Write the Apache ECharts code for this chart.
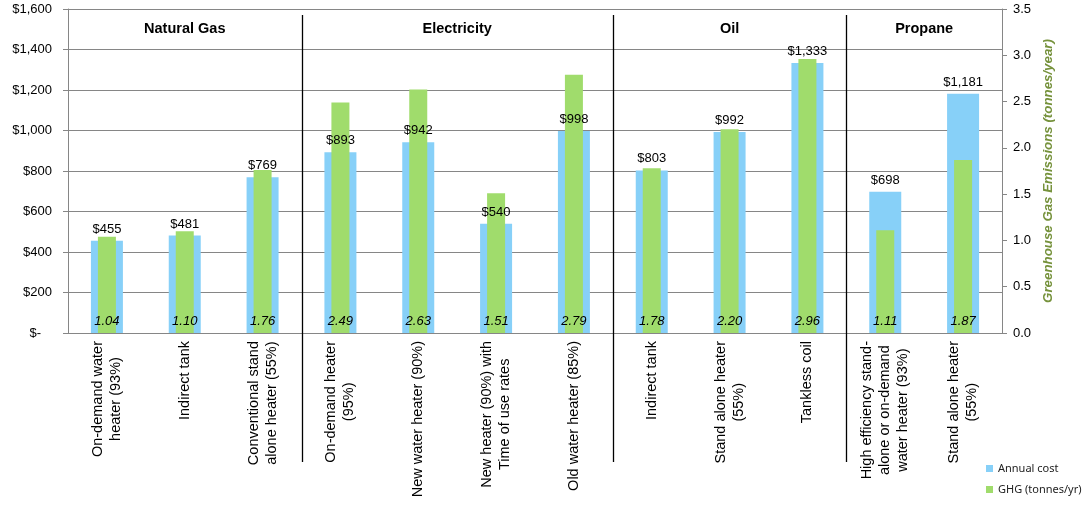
<!DOCTYPE html>
<html>
<head>
<meta charset="utf-8">
<script src="https://cdn.jsdelivr.net/npm/echarts@6/dist/echarts.min.js"></script>
<style>
  html, body { margin: 0; padding: 0; background: #fff; }
  #chart { width: 1089px; height: 505px; }
</style>
</head>
<body>
<div id="chart"></div>
<script>
// water heater options, grouped by fuel
var categories = [
  'On-demand water\nheater (93%)',
  'Indirect tank',
  'Conventional stand\nalone heater (55%)',
  'On-demand heater\n(95%)',
  'New water heater (90%)',
  'New heater (90%) with\nTime of use rates',
  'Old water heater (85%)',
  'Indirect tank',
  'Stand alone heater\n(55%)',
  'Tankless coil',
  'High efficiency stand-\nalone or on-demand\nwater heater (93%)',
  'Stand alone heater\n(55%)'
];
var annualCost = [455, 481, 769, 893, 942, 540, 998, 803, 992, 1333, 698, 1181];
var ghgTonnes = [1.04, 1.10, 1.76, 2.49, 2.63, 1.51, 2.79, 1.78, 2.20, 2.96, 1.11, 1.87];
var groupNames = ['Natural Gas', 'Electricity', 'Oil', 'Propane'];
var groupSizes = [3, 4, 3, 2];

var FONT = '"Liberation Sans", Arial, sans-serif';
var BLUE = '#87d0f8';
var GREEN = '#a0dc6c';
var GRID_COLOR = '#868686';

var chart = echarts.init(document.getElementById('chart'));

function money(v) {
  if (v === 0) return '$-   ';
  return '$' + v.toLocaleString('en-US');
}

var option = {
  animation: false,
  backgroundColor: '#fff',
  grid: { left: 68, right: 87, top: 9, bottom: 172 },
  legend: {
    orient: 'vertical',
    left: 981,
    top: 458,
    itemWidth: 7,
    itemHeight: 7,
    itemGap: 10,
    icon: 'rect',
    textStyle: { fontFamily: '"Noto Sans", sans-serif', fontSize: 11, color: '#222' },
    data: ['Annual cost', 'GHG (tonnes/yr)']
  },
  xAxis: [{
    type: 'category',
    data: categories,
    axisLine: { lineStyle: { color: GRID_COLOR } },
    axisTick: { length: 5, lineStyle: { color: GRID_COLOR } },
    axisLabel: {
      interval: 0,
      rotate: 90,
      margin: 8,
      color: '#000',
      formatter: function (v) {
        return v.split('\n').map(function (s) { return '{c|' + s + '}'; }).join('\n');
      },
      rich: {
        c: { align: 'center', fontFamily: FONT, fontSize: 14.5, lineHeight: 18, color: '#000' }
      }
    }
  }, {
    type: 'category',
    data: categories,
    show: false
  }],
  yAxis: [{
    type: 'value',
    min: 0, max: 1600, interval: 200,
    axisLine: { show: true, lineStyle: { color: GRID_COLOR } },
    axisTick: { show: true, length: 5, lineStyle: { color: GRID_COLOR } },
    splitLine: { lineStyle: { color: GRID_COLOR } },
    axisLabel: { formatter: money, fontFamily: FONT, fontSize: 13, color: '#000', margin: 16 }
  }, {
    type: 'value',
    min: 0, max: 3.5, interval: 0.5,
    position: 'right',
    name: 'Greenhouse Gas Emissions (tonnes/year)',
    nameLocation: 'middle',
    nameRotate: 90,
    nameGap: 38,
    nameTextStyle: { fontFamily: FONT, fontSize: 13.3, fontWeight: 'bold', fontStyle: 'italic', color: '#76923c' },
    axisLine: { show: true, lineStyle: { color: GRID_COLOR } },
    axisTick: { show: true, length: 5, lineStyle: { color: GRID_COLOR } },
    splitLine: { show: false },
    axisLabel: {
      formatter: function (v) { return v.toFixed(1); },
      fontFamily: FONT, fontSize: 13, color: '#000', margin: 11
    }
  }],
  series: [{
    name: 'Annual cost',
    type: 'bar',
    xAxisIndex: 0,
    yAxisIndex: 0,
    barWidth: 32,
    itemStyle: { color: BLUE },
    label: {
      show: true,
      position: 'top',
      distance: 5,
      fontFamily: FONT, fontSize: 13, color: '#000',
      formatter: function (p) { return money(p.value); }
    },
    z: 2,
    data: annualCost
  }, {
    name: 'GHG (tonnes/yr)',
    type: 'bar',
    xAxisIndex: 1,
    yAxisIndex: 1,
    barWidth: 18,
    itemStyle: { color: GREEN },
    label: {
      show: true,
      position: 'insideBottom',
      distance: 5,
      fontFamily: FONT, fontSize: 13, fontStyle: 'italic', color: '#000',
      formatter: function (p) { return p.value.toFixed(2); }
    },
    z: 2,
    data: ghgTonnes
  }]
};

chart.setOption(option);

// group dividers and fuel titles, placed from the category axis
var graphics = [];
var start = 0;
var titleY = chart.convertToPixel({ yAxisIndex: 0 }, 1500);
groupNames.forEach(function (name, g) {
  var end = start + groupSizes[g] - 1;
  var x0 = chart.convertToPixel({ xAxisIndex: 0 }, start);
  var x1 = chart.convertToPixel({ xAxisIndex: 0 }, end);
  graphics.push({
    type: 'text',
    x: (x0 + x1) / 2,
    y: titleY,
    z: 10,
    style: {
      text: name,
      fontFamily: FONT, fontSize: 14.5, fontWeight: 'bold', fill: '#000',
      align: 'center', verticalAlign: 'middle'
    }
  });
  if (g < groupNames.length - 1) {
    var xa = chart.convertToPixel({ xAxisIndex: 0 }, end);
    var xb = chart.convertToPixel({ xAxisIndex: 0 }, end + 1);
    var xd = Math.round((xa + xb) / 2) + 0.5;
    graphics.push({
      type: 'line',
      z: 10,
      shape: { x1: xd, y1: 15, x2: xd, y2: 462 },
      style: { stroke: '#000', lineWidth: 1.3 }
    });
  }
  start = end + 1;
});
chart.setOption({ graphic: graphics });
</script>
</body>
</html>
